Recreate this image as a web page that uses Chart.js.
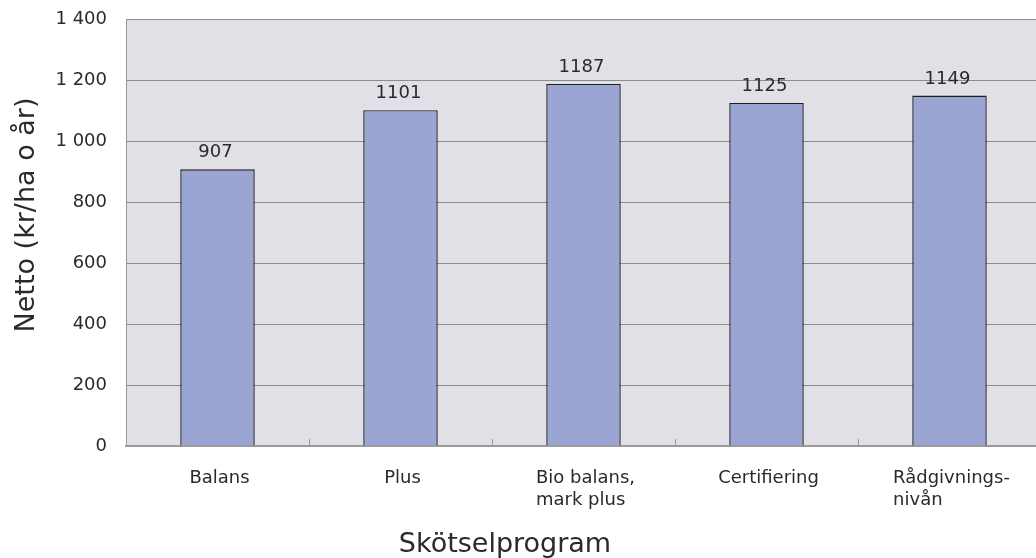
<!DOCTYPE html>
<html>
<head>
<meta charset="utf-8">
<script src="https://cdn.jsdelivr.net/npm/chart.js@4/dist/chart.umd.min.js"></script>
<style>
  html, body { margin: 0; padding: 0; background: #ffffff; overflow: hidden; }
  #wrap { width: 1036px; height: 558px; overflow: hidden; position: relative; }
  canvas { display: block; }
</style>
</head>
<body>
<div id="wrap"><canvas id="c" width="1041" height="558"></canvas></div>
<script>
const categories = [["Balans"], ["Plus"], ["Bio balans,", "mark plus"], ["Certifiering"], ["Rådgivnings-", "nivån"]];
const netValues = [907, 1101, 1187, 1125, 1149];
const yTickValues = [0, 200, 400, 600, 800, 1000, 1200, 1400];
const yTickLabels = ["0", "200", "400", "600", "800", "1 000", "1 200", "1 400"];
const xTitle = "Skötselprogram";
const yTitle = "Netto (kr/ha o år)";

const FONT = "'DejaVu Sans', 'Liberation Sans', sans-serif";
const TEXT = "#2a2a2a";

const decor = {
  id: "decor",
  beforeDraw(chart) {
    const { ctx, chartArea: a } = chart;
    ctx.save();
    ctx.fillStyle = "#e1e0e6";
    ctx.fillRect(a.left, a.top, a.right - a.left, a.bottom - a.top);
    ctx.restore();
  },
  afterDatasetsDraw(chart) {
    const { ctx, chartArea: a } = chart;
    const xs = chart.scales.x;
    const meta = chart.getDatasetMeta(0);
    ctx.save();
    // inner tick marks at category boundaries
    ctx.strokeStyle = "#999999";
    ctx.lineWidth = 1;
    for (let i = 1; i < categories.length; i++) {
      const px = Math.round((xs.getPixelForTick(i - 1) + xs.getPixelForTick(i)) / 2) + 0.5;
      ctx.beginPath();
      ctx.moveTo(px, a.bottom);
      ctx.lineTo(px, a.bottom - 7);
      ctx.stroke();
    }
    // value labels
    ctx.fillStyle = TEXT;
    ctx.font = "18px " + FONT;
    ctx.textAlign = "center";
    ctx.textBaseline = "alphabetic";
    meta.data.forEach((bar, i) => {
      ctx.fillText(String(netValues[i]), bar.x - 2, bar.y - 12);
    });
    // category labels (left-aligned lines, centered block)
    ctx.textAlign = "left";
    categories.forEach((lines, i) => {
      const cx = xs.getPixelForTick(i);
      const w = Math.max(...lines.map(l => ctx.measureText(l).width));
      lines.forEach((l, j) => {
        ctx.fillText(l, cx - w / 2 + 2, a.bottom + 37 + j * 22);
      });
    });
    // axis titles
    ctx.font = "27px " + FONT;
    ctx.textAlign = "center";
    ctx.fillText(xTitle, 505, 552);
    ctx.translate(27, 215);
    ctx.rotate(-Math.PI / 2);
    ctx.textBaseline = "middle";
    ctx.fillText(yTitle, 0, 0);
    ctx.restore();
  }
};

new Chart(document.getElementById("c"), {
  type: "bar",
  data: {
    labels: categories.map(l => l.join(" ")),
    datasets: [{
      data: netValues,
      backgroundColor: "#9aa5d3",
      borderColor: "#1e1e1e",
      borderWidth: 1.4,
      borderSkipped: "bottom",
      barPercentage: 0.407,
      categoryPercentage: 1.0
    }]
  },
  options: {
    responsive: false,
    devicePixelRatio: 1,
    animation: false,
    layout: { padding: { top: 19, right: 0, left: 0, bottom: 0 } },
    plugins: { legend: { display: false }, tooltip: { enabled: false }, title: { display: false } },
    scales: {
      x: {
        grid: { display: false },
        border: { display: true, color: "#9a9a9a", width: 2 },
        ticks: { display: false },
        afterFit(scale) { scale.height = 112; }
      },
      y: {
        min: 0,
        max: 1400,
        afterBuildTicks(scale) { scale.ticks = yTickValues.map(v => ({ value: v })); },
        ticks: {
          color: TEXT,
          font: { family: FONT, size: 18 },
          padding: 2,
          callback: (v) => yTickLabels[yTickValues.indexOf(v)]
        },
        grid: { color: "#8c8c8c", lineWidth: 1, drawTicks: true, tickLength: 17, tickColor: "rgba(0,0,0,0)" },
        border: { display: true, color: "#9a9a9a", width: 1 },
        afterFit(scale) { scale.width = 126; }
      }
    }
  },
  plugins: [decor]
});
</script>
</body>
</html>
